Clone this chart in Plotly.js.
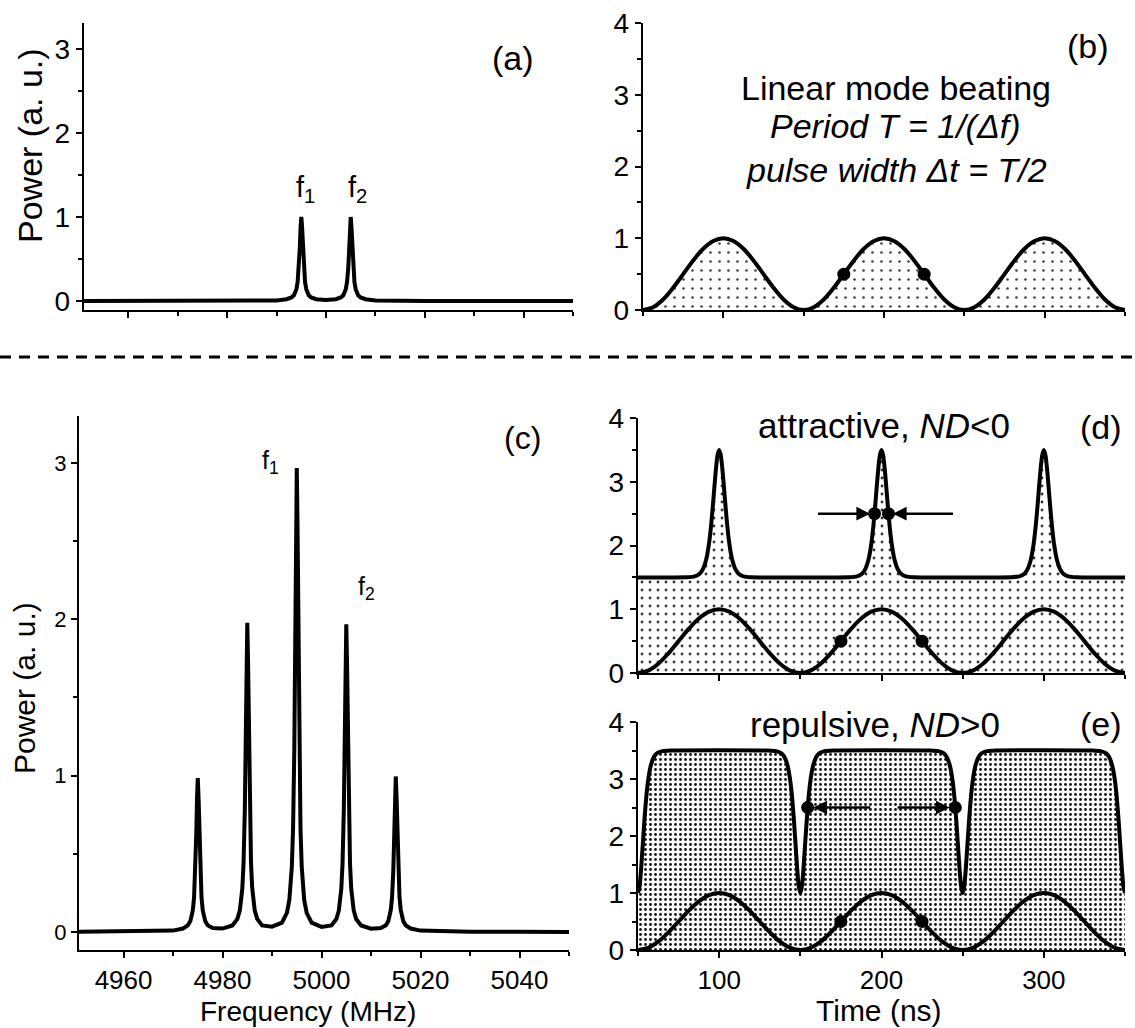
<!DOCTYPE html>
<html>
<head>
<meta charset="utf-8">
<script src="https://cdn.plot.ly/plotly-3.0.1.min.js"></script>
<style>
  html, body { margin: 0; padding: 0; background: #fff; }
  #fig { width: 1135px; height: 1028px; }
</style>
</head>
<body>
<div id="fig"></div>
<script>
// ---- Spectrum, linear case (a): two modes f1, f2 ----
const freqA = [4951, 4970, 4980, 4985, 4990,
  4992, 4993, 4993.5, 4994, 4994.25, 4994.5, 4994.7, 4994.85, 4995, 4995.15, 4995.3, 4995.5, 4995.75, 4996, 4996.5, 4997, 4998,
  5000,
  5002, 5003, 5003.5, 5004, 5004.25, 5004.5, 5004.7, 5004.85, 5005, 5005.15, 5005.3, 5005.5, 5005.75, 5006, 5006.5, 5007, 5008,
  5010, 5015, 5020, 5030, 5050];
const powerA = [0.0004, 0.0008, 0.001, 0.002, 0.007,
  0.021, 0.042, 0.069, 0.141, 0.225, 0.393, 0.643, 0.880, 1.0, 0.880, 0.643, 0.393, 0.225, 0.141, 0.069, 0.042, 0.021,
  0.013,
  0.021, 0.042, 0.069, 0.141, 0.225, 0.393, 0.643, 0.880, 1.0, 0.880, 0.643, 0.393, 0.225, 0.141, 0.069, 0.042, 0.021,
  0.007, 0.002, 0.001, 0.0008, 0.0004];

// ---- Spectrum, nonlinear case (c): five modes ----
const freqC = [4951, 4960, 4965, 4970,
  4972, 4973, 4973.5, 4974, 4974.25, 4974.5, 4974.7, 4974.85, 4975, 4975.15, 4975.3, 4975.5, 4975.75, 4976, 4976.5, 4977, 4978,
  4980,
  4982, 4983, 4983.5, 4984, 4984.25, 4984.5, 4984.7, 4984.85, 4985, 4985.15, 4985.3, 4985.5, 4985.75, 4986, 4986.5, 4987, 4988,
  4990,
  4992, 4993, 4993.5, 4994, 4994.25, 4994.5, 4994.7, 4994.85, 4995, 4995.15, 4995.3, 4995.5, 4995.75, 4996, 4996.5, 4997, 4998,
  5000,
  5002, 5003, 5003.5, 5004, 5004.25, 5004.5, 5004.7, 5004.85, 5005, 5005.15, 5005.3, 5005.5, 5005.75, 5006, 5006.5, 5007, 5008,
  5010,
  5012, 5013, 5013.5, 5014, 5014.25, 5014.5, 5014.7, 5014.85, 5015, 5015.15, 5015.3, 5015.5, 5015.75, 5016, 5016.5, 5017, 5018,
  5020, 5025, 5030, 5040, 5050];
const powerC = [0.001, 0.002, 0.003, 0.009,
  0.022, 0.043, 0.070, 0.140, 0.222, 0.387, 0.632, 0.864, 0.985, 0.864, 0.632, 0.387, 0.222, 0.140, 0.070, 0.043, 0.026,
  0.022,
  0.042, 0.084, 0.139, 0.280, 0.444, 0.776, 1.269, 1.736, 1.978, 1.736, 1.269, 0.776, 0.444, 0.280, 0.139, 0.084, 0.042,
  0.034,
  0.060, 0.122, 0.205, 0.416, 0.664, 1.162, 1.902, 2.604, 2.968, 2.604, 1.902, 1.162, 0.664, 0.416, 0.205, 0.122, 0.060,
  0.033,
  0.042, 0.083, 0.138, 0.278, 0.442, 0.772, 1.262, 1.727, 1.968, 1.727, 1.262, 0.772, 0.442, 0.278, 0.138, 0.083, 0.042,
  0.021,
  0.026, 0.043, 0.071, 0.142, 0.224, 0.391, 0.639, 0.873, 0.995, 0.873, 0.639, 0.391, 0.224, 0.142, 0.071, 0.043, 0.022,
  0.009, 0.003, 0.002, 0.001, 0.0005];
const freqTicks = [4960, 4980, 5000, 5020, 5040];

// ---- Linear beating of two modes (b, and reference curve in d, e) ----
const timeNs = [50, 56.25, 62.5, 68.75, 75, 81.25, 87.5, 93.75, 100, 106.25, 112.5, 118.75, 125, 131.25, 137.5, 143.75,
  150, 156.25, 162.5, 168.75, 175, 181.25, 187.5, 193.75, 200, 206.25, 212.5, 218.75, 225, 231.25, 237.5, 243.75,
  250, 256.25, 262.5, 268.75, 275, 281.25, 287.5, 293.75, 300, 306.25, 312.5, 318.75, 325, 331.25, 337.5, 343.75, 350];
const beatPower = [0, 0.038, 0.146, 0.309, 0.5, 0.691, 0.854, 0.962, 1, 0.962, 0.854, 0.691, 0.5, 0.309, 0.146, 0.038,
  0, 0.038, 0.146, 0.309, 0.5, 0.691, 0.854, 0.962, 1, 0.962, 0.854, 0.691, 0.5, 0.309, 0.146, 0.038,
  0, 0.038, 0.146, 0.309, 0.5, 0.691, 0.854, 0.962, 1, 0.962, 0.854, 0.691, 0.5, 0.309, 0.146, 0.038, 0];
const halfTime = [175, 225];
const halfPower = [0.5, 0.5];

// ---- Attractive interaction (d): bright pulses on a 1.5 background ----
const timeAttr = [50, 70, 80, 85, 88, 90, 92, 93, 94, 95, 96, 97, 98, 99, 100, 101, 102, 103, 104, 105, 106, 107, 108, 110, 112, 115, 120,
  170, 180, 185, 188, 190, 192, 193, 194, 195, 196, 197, 198, 199, 200, 201, 202, 203, 204, 205, 206, 207, 208, 210, 212, 215, 220,
  270, 280, 285, 288, 290, 292, 293, 294, 295, 296, 297, 298, 299, 300, 301, 302, 303, 304, 305, 306, 307, 308, 310, 312, 315, 320, 350];
const powerAttr = [1.5, 1.5, 1.502, 1.517, 1.558, 1.629, 1.781, 1.909, 2.080, 2.308, 2.589, 2.899, 3.198, 3.418, 3.5, 3.418, 3.198, 2.899, 2.589, 2.308, 2.080, 1.909, 1.781, 1.629, 1.558, 1.517, 1.502,
  1.5, 1.502, 1.517, 1.558, 1.629, 1.781, 1.909, 2.080, 2.308, 2.589, 2.899, 3.198, 3.418, 3.5, 3.418, 3.198, 2.899, 2.589, 2.308, 2.080, 1.909, 1.781, 1.629, 1.558, 1.517, 1.502,
  1.5, 1.502, 1.517, 1.558, 1.629, 1.781, 1.909, 2.080, 2.308, 2.589, 2.899, 3.198, 3.418, 3.5, 3.418, 3.198, 2.899, 2.589, 2.308, 2.080, 1.909, 1.781, 1.629, 1.558, 1.517, 1.502, 1.5];
const widthTime = [195.7, 204.3];
const widthPower = [2.5, 2.5];

// ---- Repulsive interaction (e): dark pulses on a 3.5 background ----
const timeRep = [50, 51, 52, 53, 54, 55, 56, 57, 58, 60, 62, 65, 70,
  130, 135, 138, 140, 142, 143, 144, 145, 146, 147, 148, 149, 150, 151, 152, 153, 154, 155, 156, 157, 158, 160, 162, 165, 170,
  230, 235, 238, 240, 242, 243, 244, 245, 246, 247, 248, 249, 250, 251, 252, 253, 254, 255, 256, 257, 258, 260, 262, 265, 270,
  330, 335, 338, 340, 342, 343, 344, 345, 346, 347, 348, 349, 350];
const powerRep = [1.0, 1.124, 1.453, 1.878, 2.298, 2.653, 2.925, 3.117, 3.249, 3.396, 3.458, 3.489, 3.5,
  3.5, 3.489, 3.458, 3.396, 3.249, 3.117, 2.925, 2.653, 2.298, 1.878, 1.453, 1.124, 1.0, 1.124, 1.453, 1.878, 2.298, 2.653, 2.925, 3.117, 3.249, 3.396, 3.458, 3.489, 3.5,
  3.5, 3.489, 3.458, 3.396, 3.249, 3.117, 2.925, 2.653, 2.298, 1.878, 1.453, 1.124, 1.0, 1.124, 1.453, 1.878, 2.298, 2.653, 2.925, 3.117, 3.249, 3.396, 3.458, 3.489, 3.5,
  3.5, 3.489, 3.458, 3.396, 3.249, 3.117, 2.925, 2.653, 2.298, 1.878, 1.453, 1.124, 1.0];
const gapTime = [154.5, 245.5];
const gapPower = [2.5, 2.5];
const timeTicks = [100, 200, 300];

// ---- page geometry helpers (pixel boxes -> paper fractions) ----
const W = 1135, H = 1028;
const dx = (l, r) => [l / W, r / W];
const dy = (t, b) => [1 - b / H, 1 - t / H];
const px = v => v / W;
const py = v => 1 - v / H;

const SANS = '"Liberation Sans", Arial, Helvetica, sans-serif';
const INK = '#000';

function axis(extra) {
  return Object.assign({
    showline: true, linecolor: INK, linewidth: 2.2, mirror: false,
    ticks: 'outside', ticklen: 6, tickwidth: 2, tickcolor: INK,
    showgrid: false, zeroline: false, fixedrange: true,
    tickfont: { family: SANS, size: 28, color: INK }
  }, extra);
}
const minorTicks = (dt, t0) => ({ dtick: dt, tick0: t0, ticklen: 4, tickwidth: 2, tickcolor: INK, ticks: 'outside' });

const curve = { color: INK, width: 4 };
const dot = { color: INK, size: 13 };

const traces = [
  // (a)
  { x: freqA, y: powerA, xaxis: 'x', yaxis: 'y', mode: 'lines', line: curve },
  // (b)
  { x: timeNs, y: beatPower, xaxis: 'x2', yaxis: 'y2', mode: 'lines', line: Object.assign({ shape: 'spline' }, curve),
    fill: 'tozeroy', fillcolor: 'rgba(0,0,0,0.03)',
    fillpattern: { shape: '.', fgcolor: '#444', bgcolor: 'rgba(255,255,255,0)', size: 9, solidity: 0.07 } },
  { x: halfTime, y: halfPower, xaxis: 'x2', yaxis: 'y2', mode: 'markers', marker: dot },
  // (c)
  { x: freqC, y: powerC, xaxis: 'x3', yaxis: 'y3', mode: 'lines', line: curve },
  // (d)
  { x: timeAttr, y: powerAttr, xaxis: 'x4', yaxis: 'y4', mode: 'lines', line: Object.assign({ shape: 'spline', smoothing: 0.6 }, curve),
    fill: 'tozeroy', fillcolor: 'rgba(0,0,0,0.05)',
    fillpattern: { shape: '.', fgcolor: '#333', bgcolor: 'rgba(255,255,255,0)', size: 8, solidity: 0.1 } },
  { x: timeNs, y: beatPower, xaxis: 'x4', yaxis: 'y4', mode: 'lines', line: Object.assign({ shape: 'spline' }, curve) },
  { x: halfTime, y: halfPower, xaxis: 'x4', yaxis: 'y4', mode: 'markers', marker: dot },
  { x: widthTime, y: widthPower, xaxis: 'x4', yaxis: 'y4', mode: 'markers', marker: dot },
  // (e)
  { x: timeRep, y: powerRep, xaxis: 'x5', yaxis: 'y5', mode: 'lines', line: Object.assign({ shape: 'spline', smoothing: 0.6 }, curve),
    fill: 'tozeroy', fillcolor: 'rgba(0,0,0,0.12)',
    fillpattern: { shape: '.', fgcolor: '#111', bgcolor: 'rgba(255,255,255,0)', size: 5, solidity: 0.25 } },
  { x: timeNs, y: beatPower, xaxis: 'x5', yaxis: 'y5', mode: 'lines', line: Object.assign({ shape: 'spline' }, curve) },
  { x: halfTime, y: halfPower, xaxis: 'x5', yaxis: 'y5', mode: 'markers', marker: dot },
  { x: gapTime, y: gapPower, xaxis: 'x5', yaxis: 'y5', mode: 'markers', marker: dot }
];
traces.forEach(t => { t.showlegend = false; t.hoverinfo = 'skip'; });

function label(text, x, y, size, extra) {
  return Object.assign({ xref: 'paper', yref: 'paper', x: px(x), y: py(y), text: text, showarrow: false,
    xanchor: 'center', yanchor: 'middle', borderpad: 0, font: { family: SANS, size: size, color: INK } }, extra || {});
}
function arrow(xa, ya, tip, tail, y) {
  return { xref: xa, yref: ya, axref: xa, ayref: ya, x: tip, y: y, ax: tail, ay: y, text: '',
    showarrow: true, arrowhead: 2, arrowsize: 1.1, arrowwidth: 2.5, arrowcolor: INK, standoff: 0 };
}

const annotations = [
  label('(a)', 513, 58, 34),
  label('(b)', 1088, 46, 34),
  label('(c)', 522, 438, 32),
  label('(d)', 1101, 427, 34),
  label('(e)', 1101, 724, 34),
  label('f<sub>1</sub>', 305, 189, 29),
  label('f<sub>2</sub>', 357, 189, 29),
  label('f<sub>1</sub>', 270, 462, 25),
  label('f<sub>2</sub>', 366, 588, 25),
  label('Linear mode beating', 896, 88, 34),
  label('<i>Period T = 1/(Δf)</i>', 895, 126, 34),
  label('<i>pulse width Δt = T/2</i>', 896, 170, 34),
  label('attractive, <i>ND</i>&lt;0', 884, 425, 35),
  label('repulsive, <i>ND</i>&gt;0', 875, 724, 35),
  label('Power (a. u.)', 30, 146, 34, { textangle: -90 }),
  label('Power (a. u.)', 24, 688, 30, { textangle: -90 }),
  label('Frequency (MHz)', 308, 1011, 28),
  label('Time (ns)', 879, 1010, 30)
];
annotations.push(
  arrow('x4', 'y4', 193, 160, 2.5),
  arrow('x4', 'y4', 207, 245, 2.5),
  arrow('x5', 'y5', 158, 194, 2.5),
  arrow('x5', 'y5', 242, 209, 2.5)
);

const layout = {
  width: W, height: H,
  margin: { l: 0, r: 0, t: 0, b: 0 },
  paper_bgcolor: '#fff', plot_bgcolor: 'rgba(0,0,0,0)',
  showlegend: false,
  font: { family: SANS, color: INK },
  // (a)
  xaxis: axis({ domain: dx(84, 573), range: [4951, 5050], anchor: 'y', tickvals: freqTicks, showticklabels: false,
    minor: minorTicks(10, 4950) }),
  yaxis: axis({ domain: dy(23, 310), range: [-0.107, 3.31], anchor: 'x', tickvals: [0, 1, 2, 3],
    minor: minorTicks(0.5, 0) }),
  // (b)
  xaxis2: axis({ domain: dx(643, 1125), range: [50, 350], anchor: 'y2', tickvals: timeTicks, showticklabels: false,
    minor: minorTicks(50, 50) }),
  yaxis2: axis({ domain: dy(23, 310), range: [0, 4], anchor: 'x2', tickvals: [0, 1, 2, 3, 4],
    minor: minorTicks(0.5, 0) }),
  // (c)
  xaxis3: axis({ domain: dx(79, 569), range: [4951, 5050], anchor: 'y3', tickvals: freqTicks,
    tickfont: { family: SANS, size: 26, color: INK },
    minor: minorTicks(10, 4950) }),
  yaxis3: axis({ domain: dy(416, 950), range: [-0.115, 3.30], anchor: 'x3', tickvals: [0, 1, 2, 3],
    tickfont: { family: SANS, size: 22, color: INK },
    minor: minorTicks(0.5, 0) }),
  // (d)
  xaxis4: axis({ domain: dx(638, 1125), range: [50, 350], anchor: 'y4', tickvals: timeTicks, showticklabels: false,
    minor: minorTicks(50, 50) }),
  yaxis4: axis({ domain: dy(418, 673), range: [0, 4], anchor: 'x4', tickvals: [0, 1, 2, 3, 4],
    minor: minorTicks(0.5, 0) }),
  // (e)
  xaxis5: axis({ domain: dx(638, 1125), range: [50, 350], anchor: 'y5', tickvals: timeTicks,
    tickfont: { family: SANS, size: 26, color: INK },
    minor: minorTicks(50, 50) }),
  yaxis5: axis({ domain: dy(722, 950), range: [0, 4], anchor: 'x5', tickvals: [0, 1, 2, 3, 4],
    minor: minorTicks(0.5, 0) }),
  shapes: [
    // separator between the linear and nonlinear rows
    { type: 'line', xref: 'paper', yref: 'paper', x0: 0, x1: 1, y0: py(357), y1: py(357),
      line: { color: INK, width: 3, dash: '11px,8px' } }
  ],
  annotations: annotations
};

Plotly.newPlot('fig', traces, layout, { staticPlot: true, displayModeBar: false });
</script>
</body>
</html>
